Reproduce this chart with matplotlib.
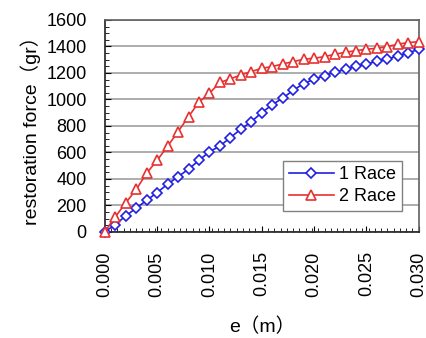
import matplotlib.pyplot as plt
from matplotlib.ticker import MultipleLocator

# displacement e (m) and restoration force (gr)
e = [0.000, 0.001, 0.002, 0.003, 0.004, 0.005, 0.006, 0.007, 0.008, 0.009, 0.010,
     0.011, 0.012, 0.013, 0.014, 0.015, 0.016, 0.017, 0.018, 0.019, 0.020,
     0.021, 0.022, 0.023, 0.024, 0.025, 0.026, 0.027, 0.028, 0.029, 0.030]
race1 = [0, 55, 120, 180, 238, 297, 360, 417, 473, 540, 605,
         648, 712, 775, 832, 900, 960, 1010, 1068, 1120, 1152,
         1180, 1205, 1228, 1250, 1268, 1287, 1305, 1328, 1350, 1380]
race2 = [0, 113, 219, 320, 443, 540, 646, 757, 870, 980, 1047,
         1128, 1155, 1185, 1210, 1235, 1248, 1268, 1285, 1303, 1311,
         1323, 1341, 1356, 1368, 1379, 1386, 1399, 1417, 1429, 1436]
xticks = [0.000, 0.005, 0.010, 0.015, 0.020, 0.025, 0.030]

plt.rcParams['font.family'] = ['Liberation Sans', 'Noto Sans CJK JP']

fig = plt.figure(figsize=(4.26, 3.38), dpi=100)
ax = fig.add_axes([0.246, 0.314, 0.737, 0.627])

ax.plot(e, race1, color='#2020e0', lw=1.2, marker='D', ms=5, mfc='white',
        mec='#2020e0', mew=1.2, label='1 Race', clip_on=False, zorder=3)
ax.plot(e, race2, color='#e83030', lw=1.2, marker='^', ms=6.5, mfc='white',
        mec='#e83030', mew=1.2, label='2 Race', clip_on=False, zorder=3)

ax.set_xticks(xticks)
ax.set_xticklabels(['%.3f' % v for v in xticks], rotation=90)
ax.set_xlim(0, 0.030)
ax.set_ylim(0, 1600)
ax.xaxis.set_minor_locator(MultipleLocator(0.0006))
ax.yaxis.set_major_locator(MultipleLocator(200))
ax.yaxis.set_minor_locator(MultipleLocator(50))
ax.tick_params(axis='both', which='major', direction='in', length=4, labelsize=13)
ax.tick_params(axis='both', which='minor', direction='in', length=3)
ax.tick_params(axis='x', pad=14)
ax.tick_params(axis='y', pad=13)
ax.grid(axis='y', color='#a0a0a0', lw=1.2)
ax.set_axisbelow(True)
for s in ['top', 'right']:
    ax.spines[s].set_color('#606060')
    ax.spines[s].set_linewidth(1.2)
for s in ['left', 'bottom']:
    ax.spines[s].set_color('#202020')
    ax.spines[s].set_linewidth(1.2)

ax.set_xlabel('e（m）', fontsize=14, labelpad=15)
ax.set_ylabel('restoration force（gr）', fontsize=14, labelpad=4)

leg = ax.legend(loc='lower right', bbox_to_anchor=(0.946, 0.099), borderaxespad=0,
                fontsize=13, fancybox=False, framealpha=1, edgecolor='#808080',
                handlelength=2.5, handletextpad=0.3, labelspacing=0.3, borderpad=0.3)
leg.get_frame().set_linewidth(1.0)

fig.savefig('out.png', dpi=100)
